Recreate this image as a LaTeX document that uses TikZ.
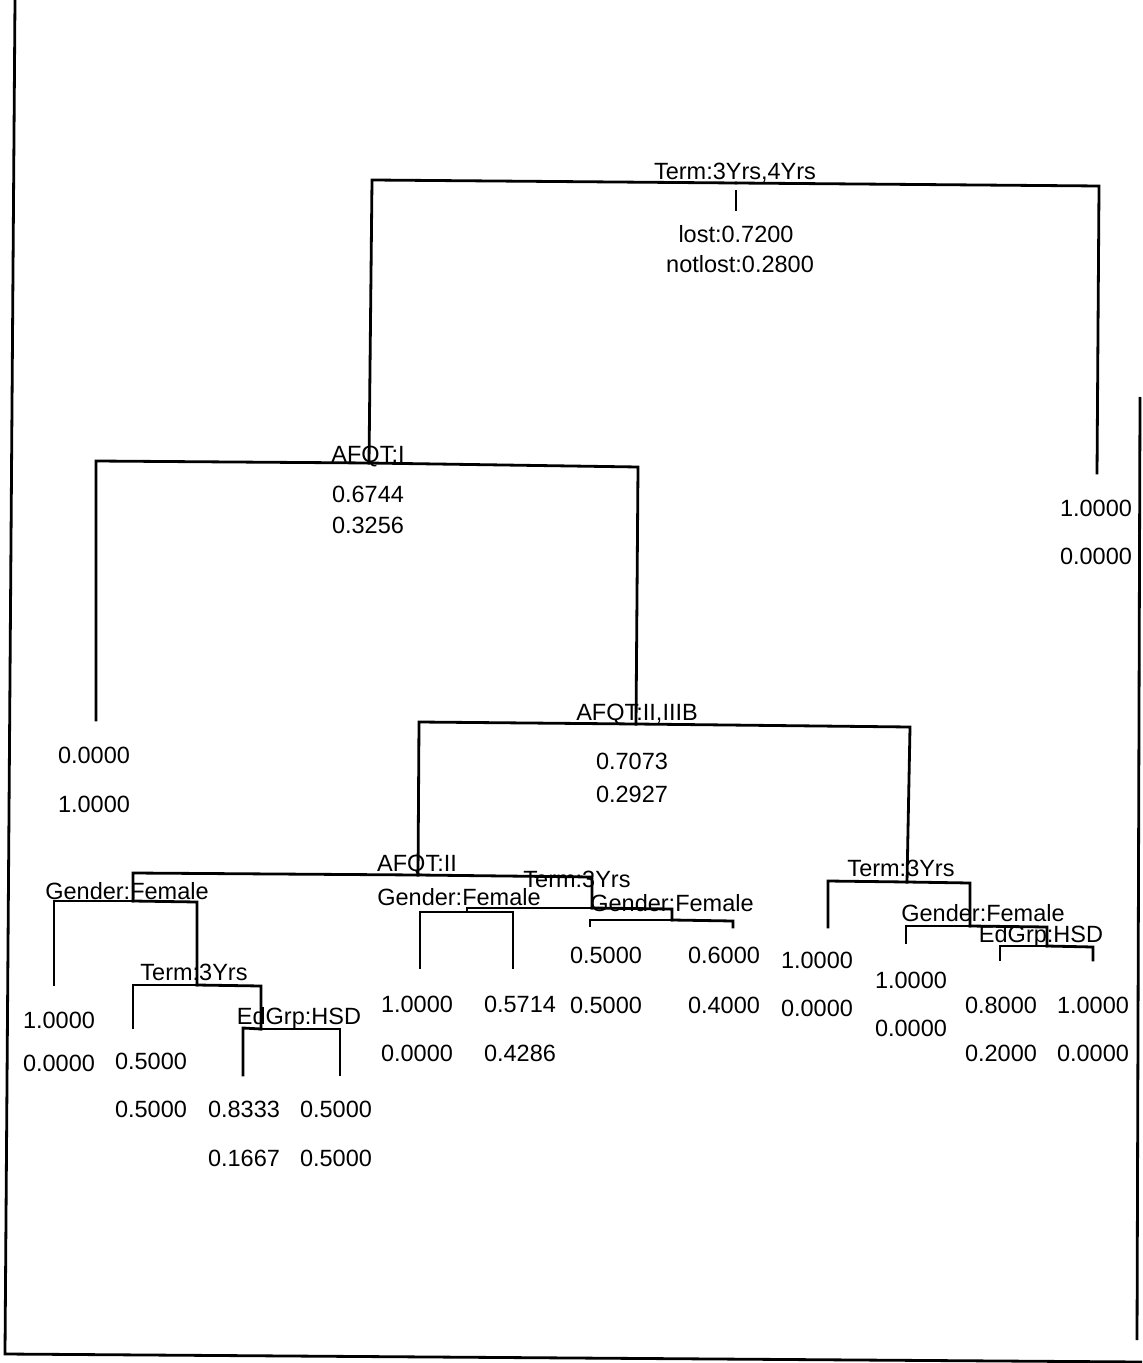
\documentclass[tikz,border=0pt]{standalone}
\usepackage{fontspec}
\setmainfont{Liberation Sans}
\begin{document}
\begin{tikzpicture}[x=0.5pt,y=-0.5pt,
  every node/.style={inner sep=0pt,font=\fontsize{11.75}{13}\selectfont},
  txt/.style={anchor=base},
  branch/.style={line width=1.4pt,line join=miter,line cap=rect},
  frame/.style={line width=1.4pt}]
\useasboundingbox (0,0) rectangle (1142,1363);
% frame
\draw[frame] (15,0) -- (5,1354) -- (1142,1362);
\draw[frame] (1140,397) -- (1137,1340);
% junction coordinates
\coordinate (R-j) at (736,183);
\coordinate (R-l) at (372,180);
\coordinate (R-r) at (1099,186);
\coordinate (R-s1) at (736,191);
\coordinate (R-s2) at (736,210);
\coordinate (N1-j) at (369,463);
\coordinate (N1-l) at (96,461);
\coordinate (N1-r) at (638,467);
\coordinate (LR) at (1097,473);
\coordinate (LA) at (96,720);
\coordinate (N2-j) at (636,724);
\coordinate (N2-l) at (419,722);
\coordinate (N2-r) at (910,727);
\coordinate (N3-j) at (418,875);
\coordinate (N3-l) at (133,873);
\coordinate (N3-r) at (592,877);
\coordinate (N4-j) at (907,882);
\coordinate (N4-l) at (828,881);
\coordinate (N4-r) at (970,883);
\coordinate (N5-j) at (133,901);
\coordinate (N5-l) at (54,901);
\coordinate (N5-r) at (197,902);
\coordinate (LB) at (54,985);
\coordinate (N7-j) at (197,985);
\coordinate (N7-l) at (133,985);
\coordinate (N7-r) at (261,986);
\coordinate (LC) at (133,1028);
\coordinate (N8-j) at (261,1029);
\coordinate (N8-l) at (243,1028);
\coordinate (N8-r) at (340,1029);
\coordinate (LD) at (243,1075);
\coordinate (LE) at (340,1075);
\coordinate (N6-j) at (592,908);
\coordinate (N6-l) at (467,908);
\coordinate (N6-r) at (672,909);
\coordinate (N9-j) at (467,912);
\coordinate (N9-l) at (420,912);
\coordinate (N9-r) at (513,912);
\coordinate (LF) at (420,968);
\coordinate (LG) at (513,968);
\coordinate (N10-j) at (672,920);
\coordinate (N10-l) at (590,920);
\coordinate (N10-r) at (733,921);
\coordinate (LH) at (590,926);
\coordinate (LI) at (733,927);
\coordinate (LJ) at (828,927);
\coordinate (N11-j) at (970,926);
\coordinate (N11-l) at (906,926);
\coordinate (N11-r) at (1047,927);
\coordinate (LK) at (906,943);
\coordinate (N12-j) at (1047,946);
\coordinate (N12-l) at (1000,946);
\coordinate (N12-r) at (1093,947);
\coordinate (LL) at (1000,960);
\coordinate (LM) at (1093,960);
% branches
\draw[branch] (R-s1) -- (R-s2);
\draw[branch] (R-j) -- (R-l) -- (N1-j);
\draw[branch] (R-j) -- (R-r) -- (LR);
\draw[branch] (N1-j) -- (N1-l) -- (LA);
\draw[branch] (N1-j) -- (N1-r) -- (N2-j);
\draw[branch] (N2-j) -- (N2-l) -- (N3-j);
\draw[branch] (N2-j) -- (N2-r) -- (N4-j);
\draw[branch] (N3-j) -- (N3-l) -- (N5-j);
\draw[branch] (N3-j) -- (N3-r) -- (N6-j);
\draw[branch] (N4-j) -- (N4-l) -- (LJ);
\draw[branch] (N4-j) -- (N4-r) -- (N11-j);
\draw[branch] (N5-j) -- (N5-l) -- (LB);
\draw[branch] (N5-j) -- (N5-r) -- (N7-j);
\draw[branch] (N7-j) -- (N7-l) -- (LC);
\draw[branch] (N7-j) -- (N7-r) -- (N8-j);
\draw[branch] (N8-j) -- (N8-l) -- (LD);
\draw[branch] (N8-j) -- (N8-r) -- (LE);
\draw[branch] (N6-j) -- (N6-l) -- (N9-j);
\draw[branch] (N6-j) -- (N6-r) -- (N10-j);
\draw[branch] (N9-j) -- (N9-l) -- (LF);
\draw[branch] (N9-j) -- (N9-r) -- (LG);
\draw[branch] (N10-j) -- (N10-l) -- (LH);
\draw[branch] (N10-j) -- (N10-r) -- (LI);
\draw[branch] (N11-j) -- (N11-l) -- (LK);
\draw[branch] (N11-j) -- (N11-r) -- (N12-j);
\draw[branch] (N12-j) -- (N12-l) -- (LL);
\draw[branch] (N12-j) -- (N12-r) -- (LM);
% labels
\node[txt] (tR) at (735,180) {Term:3Yrs,4Yrs};
\node[txt] (sR1) at (736,243) {lost:0.7200};
\node[txt] (sR2) at (740,273) {notlost:0.2800};
\node[txt] (t1) at (368,462) {AFQT:I};
\node[txt] (s11) at (368,502) {0.6744};
\node[txt] (s12) at (368,533) {0.3256};
\node[txt] (a1) at (94,763) {0.0000};
\node[txt] (a2) at (94,812) {1.0000};
\node[txt] (t2) at (637,720) {AFQT:II,IIIB};
\node[txt] (s21) at (632,769) {0.7073};
\node[txt] (s22) at (632,802) {0.2927};
\node[txt] (r1) at (1096,516) {1.0000};
\node[txt] (r2) at (1096,564) {0.0000};
\node[txt] (t3) at (417,871) {AFQT:II};
\node[txt] (t4) at (901,876) {Term:3Yrs};
\node[txt] (t5) at (127,899) {Gender:Female};
\node[txt] (b1) at (59,1028) {1.0000};
\node[txt] (b2) at (59,1071) {0.0000};
\node[txt] (t7) at (194,980) {Term:3Yrs};
\node[txt] (c1) at (151,1069) {0.5000};
\node[txt] (c2) at (151,1117) {0.5000};
\node[txt] (t8) at (299,1024) {EdGrp:HSD};
\node[txt] (d1) at (244,1117) {0.8333};
\node[txt] (d2) at (244,1166) {0.1667};
\node[txt] (e1) at (336,1117) {0.5000};
\node[txt] (e2) at (336,1166) {0.5000};
\node[txt] (t6) at (577,887) {Term:3Yrs};
\node[txt] (t9) at (459,905) {Gender:Female};
\node[txt] (f1) at (417,1012) {1.0000};
\node[txt] (f2) at (417,1061) {0.0000};
\node[txt] (g1) at (520,1012) {0.5714};
\node[txt] (g2) at (520,1061) {0.4286};
\node[txt] (t10) at (672,911) {Gender:Female};
\node[txt] (h1) at (606,963) {0.5000};
\node[txt] (h2) at (606,1013) {0.5000};
\node[txt] (i1) at (724,963) {0.6000};
\node[txt] (i2) at (724,1013) {0.4000};
\node[txt] (j1) at (817,968) {1.0000};
\node[txt] (j2) at (817,1016) {0.0000};
\node[txt] (t11) at (983,921) {Gender:Female};
\node[txt] (k1) at (911,988) {1.0000};
\node[txt] (k2) at (911,1036) {0.0000};
\node[txt] (t12) at (1041,942) {EdGrp:HSD};
\node[txt] (l1) at (1001,1013) {0.8000};
\node[txt] (l2) at (1001,1061) {0.2000};
\node[txt] (m1) at (1093,1013) {1.0000};
\node[txt] (m2) at (1093,1061) {0.0000};
\end{tikzpicture}
\end{document}
